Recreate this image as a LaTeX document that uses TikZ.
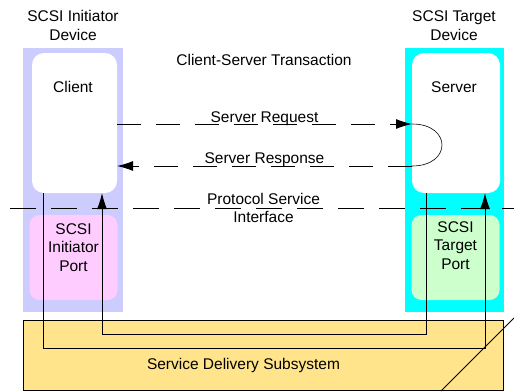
\documentclass[tikz,border=0pt]{standalone}
\usepackage{fontspec}
\setmainfont{Liberation Sans}
\usetikzlibrary{arrows.meta}

\definecolor{initblue}{RGB}{204,204,255}
\definecolor{targcyan}{RGB}{0,255,255}
\definecolor{portpink}{RGB}{255,204,255}
\definecolor{portgreen}{RGB}{204,255,204}
\definecolor{sdsyellow}{RGB}{255,228,140}

\tikzset{
	lbl/.style={font=\fontsize{15.5}{18.5}\selectfont, inner sep=0pt, align=center},
	box/.style={inner sep=0pt, outer sep=0pt},
	unit/.style={box, fill=white, rounded corners=12pt},
	port/.style={box, rounded corners=10pt, minimum width=88pt, minimum height=85pt},
	flow/.style={line width=1pt, -{Latex[length=16pt,width=10pt]}},
	msg/.style={flow, dash pattern=on 24pt off 15pt},
}

\begin{document}
\begin{tikzpicture}[x=1pt,y=-1pt]
		\useasboundingbox (0,0) rectangle (514,391);
		\node[box, fill=initblue, minimum width=100pt, minimum height=264pt] (initdev) at (73,180) {};
		\node[box, fill=targcyan, minimum width=99pt, minimum height=264pt] (targdev) at (454.5,180) {};
		\node[unit, minimum width=85pt, minimum height=140pt] (client) at (74.5,123) {};
		\node[unit, minimum width=88pt, minimum height=140pt] (server) at (456,123) {};
		\node[port, fill=portpink] (initport) at (73.5,257.5) {};
		\node[port, fill=portgreen] (targport) at (455.5,257.5) {};
		\node[box, draw, line width=1pt, fill=sdsyellow, minimum width=480pt, minimum height=70pt] (sds) at (263,355) {};

		\node[lbl] (initname) at (73,25.5) {SCSI Initiator\\Device};
		\node[lbl] (targname) at (454,25.5) {SCSI Target\\Device};
		\node[lbl] (trans) at (264,60) {Client-Server Transaction};
		\node[lbl] (clientname) at (73,87) {Client};
		\node[lbl] (servername) at (454,87) {Server};
		\node[lbl] (initportname) at (73.5,247.5) {SCSI\\Initiator\\Port};
		\node[lbl] (targportname) at (455.5,245.5) {SCSI\\Target\\Port};
		\node[lbl, anchor=base] (sdsname) at (243.5,369.5) {Service Delivery Subsystem};

		\draw[msg] ([yshift=-1pt]client.east) -- node[lbl, anchor=base, yshift=2pt]{Server Request} ([yshift=-1pt]server.west);
		\draw[line width=0.6pt] ([yshift=-1pt]server.west) .. controls +(40,0) and +(40,0) .. ([yshift=-43pt]server.west);
		\draw[msg] ([yshift=-43pt]server.west) -- node[lbl, anchor=base, yshift=3pt]{Server Response} ([yshift=-43pt]client.east);

		\coordinate (psileft) at (10,208);
		\coordinate (psiright) at (514,208);
		\draw[line width=1pt, dash pattern=on 26pt off 15pt] (psileft) -- (psiright);
		\node[lbl] (psiname) at (263.5,208) {Protocol Service\\Interface};

		\draw[flow] ([xshift=11pt]client.south west) -- ++(0,155) -| ([xshift=-15pt]server.south east);
		\draw[flow] ([xshift=14pt]server.south west) -- ++(0,141) -| ([xshift=-15pt]client.south east);

		\coordinate (cutlow) at (441,391);
		\coordinate (cuthigh) at (514,318);
		\draw[line width=1pt] (cutlow) -- (cuthigh);
	\end{tikzpicture}
\end{document}
